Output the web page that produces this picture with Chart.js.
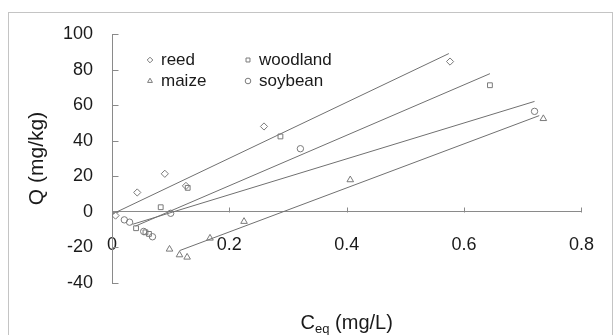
<!DOCTYPE html>
<html>
<head>
<meta charset="utf-8">
<script src="https://cdn.jsdelivr.net/npm/chart.js@4.4.0/dist/chart.umd.min.js"></script>
<style>
  html, body { margin: 0; padding: 0; background: #fff; }
  #wrap { width: 616px; height: 335px; position: relative; }
</style>
</head>
<body>
<div id="wrap"><canvas id="sorptionChart"></canvas></div>
<script>
// measured points, C_eq (mg/L) vs Q (mg/kg)
const reedX = [0.006, 0.043, 0.090, 0.126, 0.259, 0.576];
const reedY = [-2.1, 10.9, 21.4, 14.6, 48.0, 84.5];
const woodlandX = [0.041, 0.057, 0.063, 0.083, 0.129, 0.287, 0.644];
const woodlandY = [-9.2, -11.5, -12.4, 2.6, 13.5, 42.4, 71.2];
const maizeX = [0.098, 0.115, 0.128, 0.167, 0.225, 0.406, 0.735];
const maizeY = [-21.0, -24.2, -25.5, -14.8, -5.4, 18.0, 52.4];
const soybeanX = [0.021, 0.030, 0.054, 0.069, 0.100, 0.321, 0.720];
const soybeanY = [-4.5, -5.8, -11.0, -14.0, -0.8, 35.5, 56.5];

// linear trendline end points
const reedFitX = [0.002, 0.574];
const reedFitY = [-1.0, 89.0];
const woodlandFitX = [0.040, 0.644];
const woodlandFitY = [-8.0, 77.7];
const maizeFitX = [0.115, 0.728];
const maizeFitY = [-21.8, 54.1];
const soybeanFitX = [0.035, 0.720];
const soybeanFitY = [-7.0, 62.1];

// axis ticks
const xTickValues = [0, 0.2, 0.4, 0.6, 0.8];
const xTickLabels = ['0', '0.2', '0.4', '0.6', '0.8'];
const yTickValues = [-40, -20, 0, 20, 40, 60, 80, 100];
const yTickLabels = ['-40', '-20', '0', '20', '40', '60', '80', '100'];

const markerColor = '#7a7a7a';
const lineColor = '#707070';
const axisColor = '#8a8a8a';
const textColor = '#1a1a1a';
const fontFamily = '"Liberation Sans", Arial, sans-serif';

function toPoints(xs, ys) {
    return xs.map((x, i) => ({ x: x, y: ys[i] }));
}

function markerSet(label, xs, ys, style, radius) {
    return {
        label: label,
        data: toPoints(xs, ys),
        pointStyle: style,
        pointRadius: radius,
        pointBorderColor: markerColor,
        pointBackgroundColor: 'rgba(255,255,255,0)',
        pointBorderWidth: 1,
        showLine: false
    };
}

function fitSet(xs, ys) {
    return {
        label: 'fit',
        data: toPoints(xs, ys),
        showLine: true,
        borderColor: lineColor,
        borderWidth: 1,
        pointRadius: 0,
        fill: false
    };
}

// border round the whole chart, inside ticks, x title with subscript, legend
const framePlugin = {
    id: 'frame',
    beforeDraw(chart) {
        const ctx = chart.ctx;
        ctx.save();
        ctx.strokeStyle = '#c4c4c4';
        ctx.lineWidth = 1;
        ctx.strokeRect(8.5, 12.5, 604, 340);
        ctx.restore();
    },
    afterDraw(chart) {
        const ctx = chart.ctx;
        const xs = chart.scales.x;
        const ys = chart.scales.y;
        ctx.save();
        // inside tick marks
        ctx.strokeStyle = axisColor;
        ctx.lineWidth = 1;
        const y0 = Math.round(ys.getPixelForValue(0)) + 0.5;
        xTickValues.forEach(v => {
            const px = Math.round(xs.getPixelForValue(v)) + 0.5;
            ctx.beginPath();
            ctx.moveTo(px, y0);
            ctx.lineTo(px, y0 - 5);
            ctx.stroke();
        });
        const x0 = Math.round(xs.getPixelForValue(0)) + 0.5;
        yTickValues.forEach(v => {
            const py = Math.round(ys.getPixelForValue(v)) + 0.5;
            ctx.beginPath();
            ctx.moveTo(x0, py);
            ctx.lineTo(x0 + 6, py);
            ctx.stroke();
        });

        // x axis title: C_eq (mg/L)
        ctx.fillStyle = textColor;
        ctx.textBaseline = 'middle';
        ctx.textAlign = 'left';
        const main = 'C';
        const rest = ' (mg/L)';
        ctx.font = '20px ' + fontFamily;
        const wMain = ctx.measureText(main).width;
        const wRest = ctx.measureText(rest).width;
        ctx.font = '13px ' + fontFamily;
        const wSub = ctx.measureText('eq').width;
        const total = wMain + wSub + wRest;
        let tx = (chart.chartArea.left + chart.chartArea.right) / 2 - total / 2;
        const ty = 323;
        ctx.font = '20px ' + fontFamily;
        ctx.fillText(main, tx, ty);
        tx += wMain;
        ctx.font = '13px ' + fontFamily;
        ctx.fillText('eq', tx, ty + 6);
        tx += wSub;
        ctx.font = '20px ' + fontFamily;
        ctx.fillText(rest, tx, ty);

        // legend, two columns inside the plot
        const legendPos = [[150, 60], [248, 60], [150, 81], [248, 81]];
        ctx.font = '17px ' + fontFamily;
        [0, 1, 2, 3].forEach((di, k) => {
            const ds = chart.data.datasets[di];
            const [lx, ly] = legendPos[k];
            ctx.strokeStyle = markerColor;
            ctx.fillStyle = '#ffffff';
            ctx.lineWidth = 1;
            Chart.helpers.drawPoint(ctx, {
                pointStyle: ds.pointStyle,
                radius: 2.8,
                borderWidth: 1,
                rotation: 0
            }, lx, ly);
            ctx.fillStyle = textColor;
            ctx.fillText(ds.label, lx + 11, ly);
        });
        ctx.restore();
    }
};

const ctx = document.getElementById('sorptionChart').getContext('2d');
const chart = new Chart(ctx, {
    type: 'scatter',
    data: {
        datasets: [
            markerSet('reed', reedX, reedY, 'rectRot', 3.6),
            markerSet('woodland', woodlandX, woodlandY, 'rect', 3.4),
            markerSet('maize', maizeX, maizeY, 'triangle', 3.8),
            markerSet('soybean', soybeanX, soybeanY, 'circle', 3.2),
            fitSet(reedFitX, reedFitY),
            fitSet(woodlandFitX, woodlandFitY),
            fitSet(maizeFitX, maizeFitY),
            fitSet(soybeanFitX, soybeanFitY)
        ]
    },
    options: {
        responsive: true,
        maintainAspectRatio: false,
        animation: false,
        devicePixelRatio: 1,
        layout: { padding: { top: 34, right: 19, left: 0, bottom: 52 } },
        plugins: {
            legend: { display: false },
            tooltip: { enabled: false }
        },
        scales: {
            x: {
                type: 'linear',
                position: { y: 0 },
                min: 0,
                max: 0.8,
                afterBuildTicks(scale) {
                    scale.ticks = xTickValues.map(v => ({ value: v }));
                },
                grid: { display: true, drawOnChartArea: false, drawTicks: false },
                border: { display: true, color: axisColor, width: 1 },
                ticks: {
                    padding: 22,
                    color: textColor,
                    font: { family: fontFamily, size: 18 },
                    maxRotation: 0,
                    callback: (v) => xTickLabels[xTickValues.indexOf(v)]
                }
            },
            y: {
                type: 'linear',
                position: 'left',
                min: -40,
                max: 100,
                afterFit(scale) { scale.width = 112; },
                afterBuildTicks(scale) {
                    scale.ticks = yTickValues.map(v => ({ value: v }));
                },
                grid: { display: true, drawOnChartArea: false, drawTicks: false },
                border: { display: true, color: axisColor, width: 1 },
                title: {
                    display: true,
                    text: 'Q (mg/kg)',
                    color: textColor,
                    font: { family: fontFamily, size: 21 },
                    padding: { top: 25, bottom: 0 }
                },
                ticks: {
                    padding: 19,
                    color: textColor,
                    font: { family: fontFamily, size: 18 },
                    callback: (v) => yTickLabels[yTickValues.indexOf(v)]
                }
            }
        }
    },
    plugins: [framePlugin]
});
</script>
</body>
</html>
